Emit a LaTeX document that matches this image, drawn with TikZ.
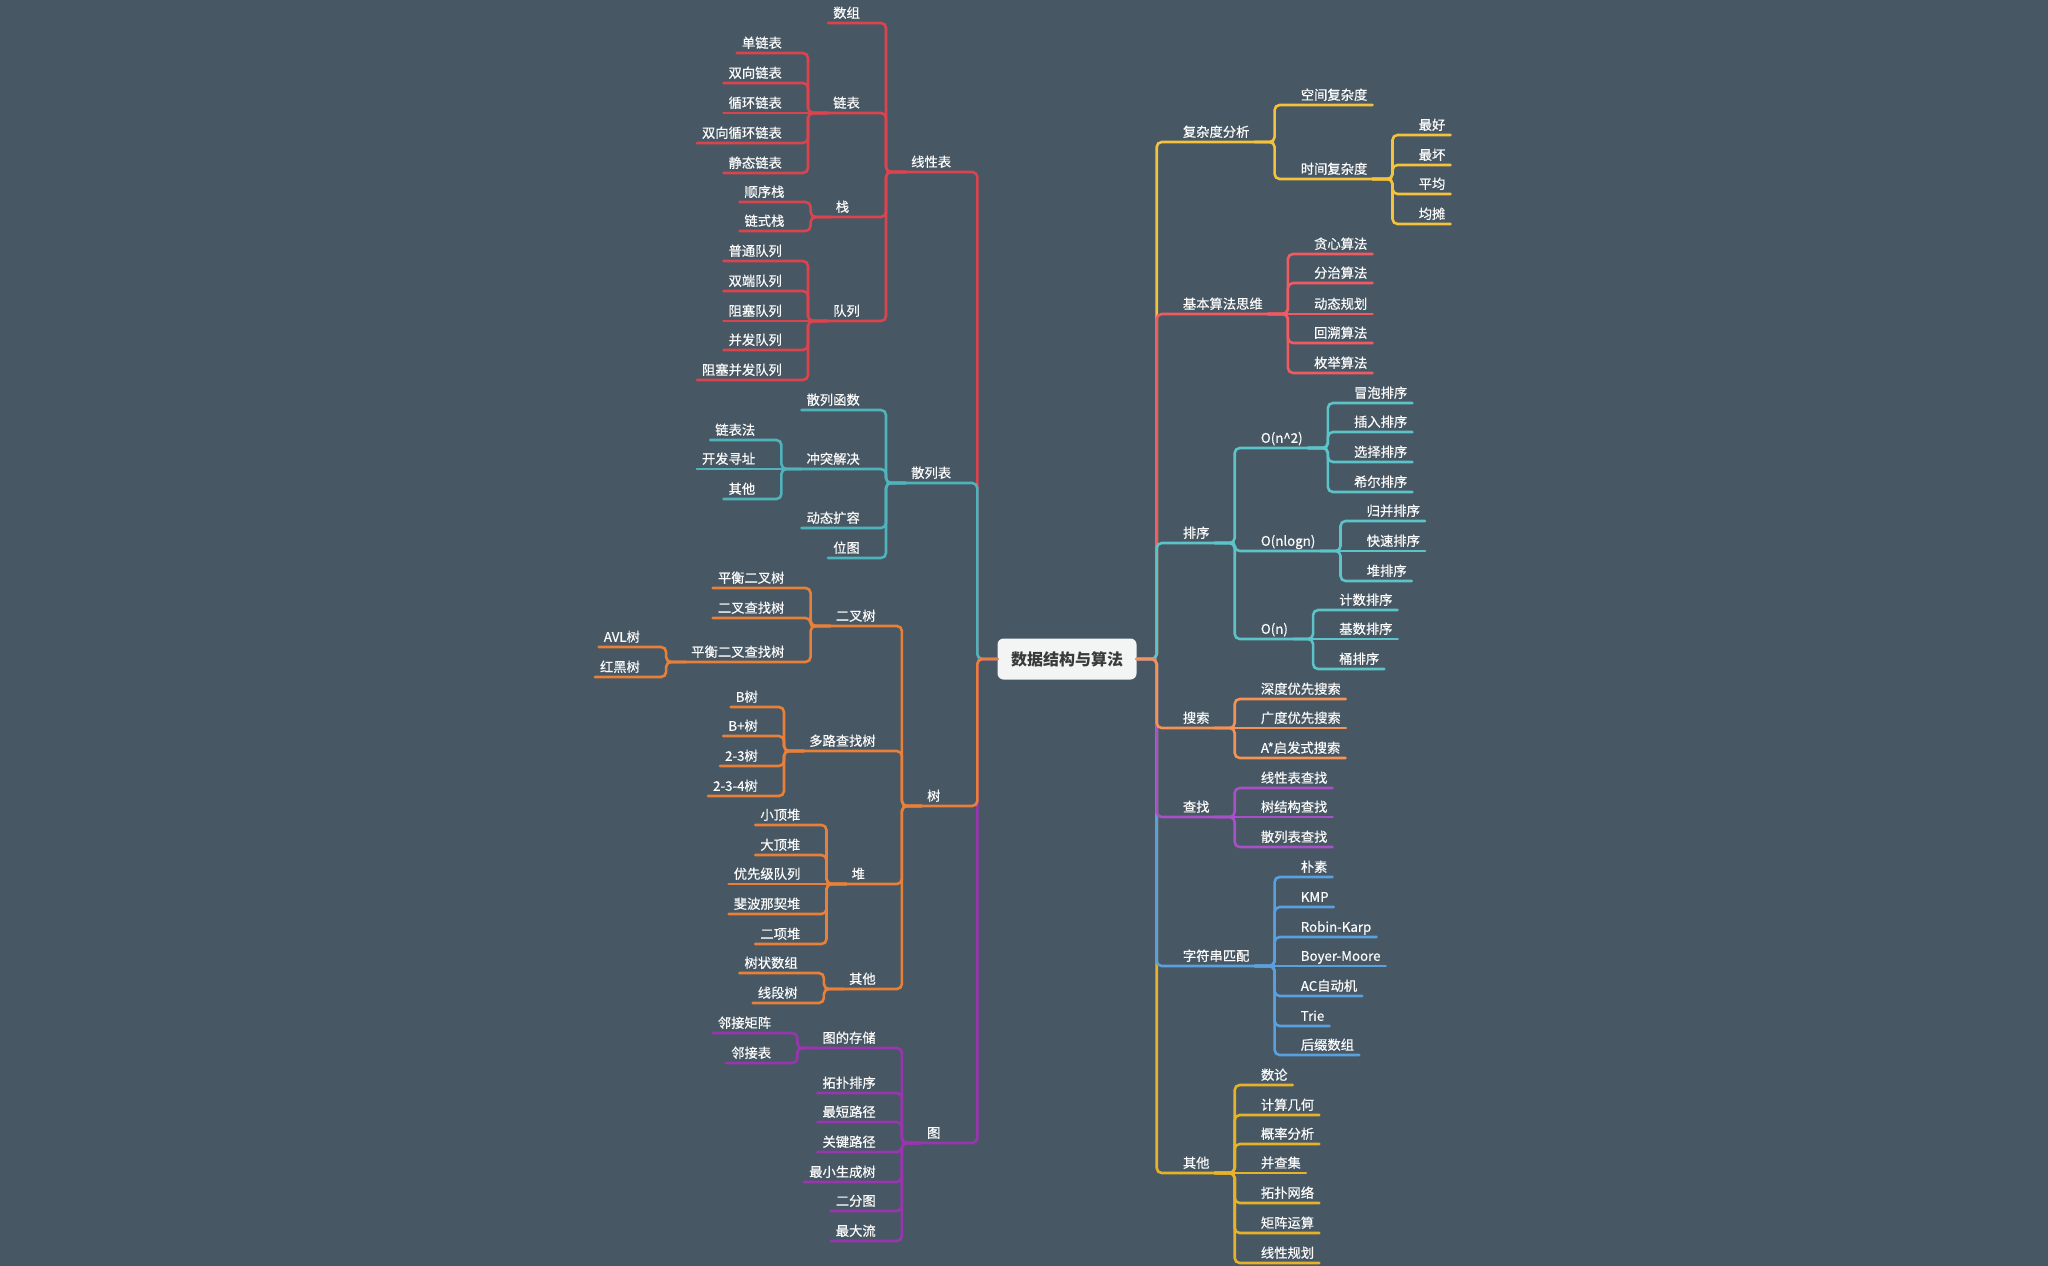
\documentclass[tikz,border=0pt]{standalone}
\usepackage{fontspec}
\newfontfamily\cjkfont{Noto Sans CJK SC}
\newfontfamily\cjktopic[FakeBold=0.6]{Noto Sans CJK SC}

\definecolor{bgSlate}{HTML}{475763}
\definecolor{rootFill}{HTML}{F3F4F4}
\definecolor{rootText}{HTML}{3A3A3A}
\definecolor{topicText}{HTML}{FAFAFA}
\definecolor{cLin}{HTML}{D9444F}
\definecolor{cHash}{HTML}{4FB3BB}
\definecolor{cTree}{HTML}{E8803A}
\definecolor{cGraph}{HTML}{9A35B0}
\definecolor{cCplx}{HTML}{F4C23C}
\definecolor{cIdea}{HTML}{EF5A63}
\definecolor{cSort}{HTML}{5CC3C8}
\definecolor{cSearch}{HTML}{F59255}
\definecolor{cFind}{HTML}{A750C7}
\definecolor{cStr}{HTML}{5AA0DD}
\definecolor{cOther}{HTML}{E6B22A}

\tikzset{
  topic/.style={font=\cjktopic\fontsize{13.3}{16}\selectfont, text=topicText, inner xsep=5pt, inner ysep=2pt, text height=10pt, text depth=3pt},
  lc/.style={topic, anchor=south east, xshift=-21pt},
  rc/.style={topic, anchor=south west, xshift=21pt},
  onechar/.style={text width=24pt, align=left},
  link/.style={line width=2.6pt, rounded corners=5pt, line cap=round},
  rootbox/.style={fill=rootFill, text=rootText, rounded corners=6pt, minimum width=139pt, minimum height=41pt, inner sep=0pt, font=\cjkfont\bfseries\fontsize{16}{19}\selectfont}
}

\begin{document}
\begin{tikzpicture}[x=1pt, y=-1pt]
\fill[bgSlate] (0,0) rectangle (2048,1266);

% ---- Root
\node[rootbox] (root) at (1067,659) {数据结构与算法};
\coordinate (rootL) at ([xshift=-20pt]root.west);
\coordinate (rootR) at ([xshift=20pt]root.east);

% ---- Linear list
\node[lc] (lin) at (rootL |- 0,172) {线性表};
\coordinate (lin-j) at ([xshift=-20pt]lin.south west);
\draw[link, cLin] (root.west) -- (rootL) |- (lin.south east) -- (lin.south west);
\node[lc] (arr) at (lin-j |- 0,23) {数组};
\node[lc] (list) at (lin-j |- 0,113) {链表};
\node[lc, onechar] (stack) at (lin-j |- 0,217) {栈};
\node[lc] (queue) at (lin-j |- 0,321) {队列};
\coordinate (list-j) at ([xshift=-20pt]list.south west);
\coordinate (stack-j) at ([xshift=-20pt]stack.south west);
\coordinate (queue-j) at ([xshift=-20pt]queue.south west);
\draw[link, cLin] (lin.south west) -- (lin-j) |- (arr.south east) -- (arr.south west);
\draw[link, cLin] (lin.south west) -- (lin-j) |- (list.south east) -- (list.south west);
\draw[link, cLin] (lin.south west) -- (lin-j) |- (stack.south east) -- (stack.south west);
\draw[link, cLin] (lin.south west) -- (lin-j) |- (queue.south east) -- (queue.south west);
% ---- list
\node[lc] (sll) at (list-j |- 0,53) {单链表};
\node[lc] (dll) at (list-j |- 0,83) {双向链表};
\node[lc] (cll) at (list-j) {循环链表};
\node[lc] (dcll) at (list-j |- 0,143) {双向循环链表};
\node[lc] (stl) at (list-j |- 0,173) {静态链表};
\draw[link, cLin] (list.south west) -- (list-j) |- (sll.south east) -- (sll.south west);
\draw[link, cLin] (list.south west) -- (list-j) |- (dll.south east) -- (dll.south west);
\draw[link, cLin] (list.south west) -- (cll.south west);
\draw[link, cLin] (list.south west) -- (list-j) |- (dcll.south east) -- (dcll.south west);
\draw[link, cLin] (list.south west) -- (list-j) |- (stl.south east) -- (stl.south west);
% ---- stack
\node[lc] (seqStack) at (stack-j |- 0,202) {顺序栈};
\node[lc] (linkStack) at (stack-j |- 0,231) {链式栈};
\draw[link, cLin] (stack.south west) -- (stack-j) |- (seqStack.south east) -- (seqStack.south west);
\draw[link, cLin] (stack.south west) -- (stack-j) |- (linkStack.south east) -- (linkStack.south west);
% ---- queue
\node[lc] (q1) at (queue-j |- 0,261) {普通队列};
\node[lc] (q2) at (queue-j |- 0,291) {双端队列};
\node[lc] (q3) at (queue-j) {阻塞队列};
\node[lc] (q4) at (queue-j |- 0,350) {并发队列};
\node[lc] (q5) at (queue-j |- 0,380) {阻塞并发队列};
\draw[link, cLin] (queue.south west) -- (queue-j) |- (q1.south east) -- (q1.south west);
\draw[link, cLin] (queue.south west) -- (queue-j) |- (q2.south east) -- (q2.south west);
\draw[link, cLin] (queue.south west) -- (q3.south west);
\draw[link, cLin] (queue.south west) -- (queue-j) |- (q4.south east) -- (q4.south west);
\draw[link, cLin] (queue.south west) -- (queue-j) |- (q5.south east) -- (q5.south west);

% ---- Hash table
\node[lc] (hash) at (rootL |- 0,483) {散列表};
\coordinate (hash-j) at ([xshift=-20pt]hash.south west);
\draw[link, cHash] (root.west) -- (rootL) |- (hash.south east) -- (hash.south west);
\node[lc] (hfun) at (hash-j |- 0,410) {散列函数};
\node[lc] (hconf) at (hash-j |- 0,469) {冲突解决};
\node[lc] (hdyn) at (hash-j |- 0,528) {动态扩容};
\node[lc] (hbit) at (hash-j |- 0,558) {位图};
\coordinate (hconf-j) at ([xshift=-20pt]hconf.south west);
\draw[link, cHash] (hash.south west) -- (hash-j) |- (hfun.south east) -- (hfun.south west);
\draw[link, cHash] (hash.south west) -- (hash-j) |- (hconf.south east) -- (hconf.south west);
\draw[link, cHash] (hash.south west) -- (hash-j) |- (hdyn.south east) -- (hdyn.south west);
\draw[link, cHash] (hash.south west) -- (hash-j) |- (hbit.south east) -- (hbit.south west);
\node[lc] (chain) at (hconf-j |- 0,440) {链表法};
\node[lc] (openAddr) at (hconf-j) {开发寻址};
\node[lc] (hoth) at (hconf-j |- 0,499) {其他};
\draw[link, cHash] (hconf.south west) -- (hconf-j) |- (chain.south east) -- (chain.south west);
\draw[link, cHash] (hconf.south west) -- (openAddr.south west);
\draw[link, cHash] (hconf.south west) -- (hconf-j) |- (hoth.south east) -- (hoth.south west);

% ---- Graph
\node[lc, onechar] (graph) at (rootL |- 0,1143) {图};
\coordinate (graph-j) at ([xshift=-20pt]graph.south west);
\draw[link, cGraph] (root.west) -- (rootL) |- (graph.south east) -- (graph.south west);
\node[lc] (gstore) at (graph-j |- 0,1048) {图的存储};
\node[lc] (topo) at (graph-j |- 0,1093) {拓扑排序};
\node[lc] (shortest) at (graph-j |- 0,1122) {最短路径};
\node[lc] (critical) at (graph-j |- 0,1152) {关键路径};
\node[lc] (mst) at (graph-j |- 0,1182) {最小生成树};
\node[lc] (bipart) at (graph-j |- 0,1211) {二分图};
\node[lc] (maxflow) at (graph-j |- 0,1241) {最大流};
\coordinate (gstore-j) at ([xshift=-20pt]gstore.south west);
\draw[link, cGraph] (graph.south west) -- (graph-j) |- (gstore.south east) -- (gstore.south west);
\draw[link, cGraph] (graph.south west) -- (graph-j) |- (topo.south east) -- (topo.south west);
\draw[link, cGraph] (graph.south west) -- (graph-j) |- (shortest.south east) -- (shortest.south west);
\draw[link, cGraph] (graph.south west) -- (graph-j) |- (critical.south east) -- (critical.south west);
\draw[link, cGraph] (graph.south west) -- (graph-j) |- (mst.south east) -- (mst.south west);
\draw[link, cGraph] (graph.south west) -- (graph-j) |- (bipart.south east) -- (bipart.south west);
\draw[link, cGraph] (graph.south west) -- (graph-j) |- (maxflow.south east) -- (maxflow.south west);
\node[lc] (adjMat) at (gstore-j |- 0,1033) {邻接矩阵};
\node[lc] (adjList) at (gstore-j |- 0,1063) {邻接表};
\draw[link, cGraph] (gstore.south west) -- (gstore-j) |- (adjMat.south east) -- (adjMat.south west);
\draw[link, cGraph] (gstore.south west) -- (gstore-j) |- (adjList.south east) -- (adjList.south west);

% ---- Tree
\node[lc, onechar] (tree) at (rootL |- 0,806) {树};
\coordinate (tree-j) at ([xshift=-20pt]tree.south west);
\draw[link, cTree] (root.west) -- (rootL) |- (tree.south east) -- (tree.south west);
\node[lc] (bin) at (tree-j |- 0,626) {二叉树};
\node[lc] (multi) at (tree-j |- 0,751) {多路查找树};
\node[lc, onechar] (heap) at (tree-j |- 0,884) {堆};
\node[lc] (toth) at (tree-j |- 0,989) {其他};
\coordinate (bin-j) at ([xshift=-20pt]bin.south west);
\coordinate (multi-j) at ([xshift=-20pt]multi.south west);
\coordinate (heap-j) at ([xshift=-20pt]heap.south west);
\coordinate (toth-j) at ([xshift=-20pt]toth.south west);
\draw[link, cTree] (tree.south west) -- (tree-j) |- (bin.south east) -- (bin.south west);
\draw[link, cTree] (tree.south west) -- (tree-j) |- (multi.south east) -- (multi.south west);
\draw[link, cTree] (tree.south west) -- (tree-j) |- (heap.south east) -- (heap.south west);
\draw[link, cTree] (tree.south west) -- (tree-j) |- (toth.south east) -- (toth.south west);
% ---- binary tree
\node[lc] (balBin) at (bin-j |- 0,588) {平衡二叉树};
\node[lc] (bst) at (bin-j |- 0,618) {二叉查找树};
\node[lc] (balBst) at (bin-j |- 0,662) {平衡二叉查找树};
\coordinate (balBst-j) at ([xshift=-20pt]balBst.south west);
\draw[link, cTree] (bin.south west) -- (bin-j) |- (balBin.south east) -- (balBin.south west);
\draw[link, cTree] (bin.south west) -- (bin-j) |- (bst.south east) -- (bst.south west);
\draw[link, cTree] (bin.south west) -- (bin-j) |- (balBst.south east) -- (balBst.south west);
\node[lc] (avl) at (balBst-j |- 0,647) {AVL树};
\node[lc] (rbt) at (balBst-j |- 0,677) {红黑树};
\draw[link, cTree] (balBst.south west) -- (balBst-j) |- (avl.south east) -- (avl.south west);
\draw[link, cTree] (balBst.south west) -- (balBst-j) |- (rbt.south east) -- (rbt.south west);
% ---- multiway tree
\node[lc] (bt) at (multi-j |- 0,707) {B树};
\node[lc] (bpt) at (multi-j |- 0,736) {B+树};
\node[lc] (t23) at (multi-j |- 0,766) {2-3树};
\node[lc] (t234) at (multi-j |- 0,796) {2-3-4树};
\draw[link, cTree] (multi.south west) -- (multi-j) |- (bt.south east) -- (bt.south west);
\draw[link, cTree] (multi.south west) -- (multi-j) |- (bpt.south east) -- (bpt.south west);
\draw[link, cTree] (multi.south west) -- (multi-j) |- (t23.south east) -- (t23.south west);
\draw[link, cTree] (multi.south west) -- (multi-j) |- (t234.south east) -- (t234.south west);
% ---- heap
\node[lc] (minHeap) at (heap-j |- 0,825) {小顶堆};
\node[lc] (maxHeap) at (heap-j |- 0,855) {大顶堆};
\node[lc] (pq) at (heap-j) {优先级队列};
\node[lc] (fibHeap) at (heap-j |- 0,914) {斐波那契堆};
\node[lc] (binoHeap) at (heap-j |- 0,944) {二项堆};
\draw[link, cTree] (heap.south west) -- (heap-j) |- (minHeap.south east) -- (minHeap.south west);
\draw[link, cTree] (heap.south west) -- (heap-j) |- (maxHeap.south east) -- (maxHeap.south west);
\draw[link, cTree] (heap.south west) -- (pq.south west);
\draw[link, cTree] (heap.south west) -- (heap-j) |- (fibHeap.south east) -- (fibHeap.south west);
\draw[link, cTree] (heap.south west) -- (heap-j) |- (binoHeap.south east) -- (binoHeap.south west);
% ---- other trees
\node[lc] (bit) at (toth-j |- 0,973) {树状数组};
\node[lc] (segTree) at (toth-j |- 0,1003) {线段树};
\draw[link, cTree] (toth.south west) -- (toth-j) |- (bit.south east) -- (bit.south west);
\draw[link, cTree] (toth.south west) -- (toth-j) |- (segTree.south east) -- (segTree.south west);

% ---- Complexity
\node[rc] (cplx) at (rootR |- 0,142) {复杂度分析};
\coordinate (cplx-j) at ([xshift=20pt]cplx.south east);
\draw[link, cCplx] (root.east) -- (rootR) |- (cplx.south west) -- (cplx.south east);
\node[rc] (space) at (cplx-j |- 0,105) {空间复杂度};
\node[rc] (time) at (cplx-j |- 0,179) {时间复杂度};
\coordinate (time-j) at ([xshift=20pt]time.south east);
\draw[link, cCplx] (cplx.south east) -- (cplx-j) |- (space.south west) -- (space.south east);
\draw[link, cCplx] (cplx.south east) -- (cplx-j) |- (time.south west) -- (time.south east);
\node[rc] (best) at (time-j |- 0,135) {最好};
\node[rc] (worst) at (time-j |- 0,165) {最坏};
\node[rc] (avg) at (time-j |- 0,194) {平均};
\node[rc] (amort) at (time-j |- 0,224) {均摊};
\draw[link, cCplx] (time.south east) -- (time-j) |- (best.south west) -- (best.south east);
\draw[link, cCplx] (time.south east) -- (time-j) |- (worst.south west) -- (worst.south east);
\draw[link, cCplx] (time.south east) -- (time-j) |- (avg.south west) -- (avg.south east);
\draw[link, cCplx] (time.south east) -- (time-j) |- (amort.south west) -- (amort.south east);

% ---- Basic ideas
\node[rc] (idea) at (rootR |- 0,314) {基本算法思维};
\coordinate (idea-j) at ([xshift=20pt]idea.south east);
\draw[link, cIdea] (root.east) -- (rootR) |- (idea.south west) -- (idea.south east);
\node[rc] (greedy) at (idea-j |- 0,254) {贪心算法};
\node[rc] (divide) at (idea-j |- 0,283) {分治算法};
\node[rc] (dp) at (idea-j) {动态规划};
\node[rc] (backtrack) at (idea-j |- 0,343) {回溯算法};
\node[rc] (enumer) at (idea-j |- 0,373) {枚举算法};
\draw[link, cIdea] (idea.south east) -- (idea-j) |- (greedy.south west) -- (greedy.south east);
\draw[link, cIdea] (idea.south east) -- (idea-j) |- (divide.south west) -- (divide.south east);
\draw[link, cIdea] (idea.south east) -- (dp.south east);
\draw[link, cIdea] (idea.south east) -- (idea-j) |- (backtrack.south west) -- (backtrack.south east);
\draw[link, cIdea] (idea.south east) -- (idea-j) |- (enumer.south west) -- (enumer.south east);

% ---- Sorting
\node[rc] (sort) at (rootR |- 0,543) {排序};
\coordinate (sort-j) at ([xshift=20pt]sort.south east);
\draw[link, cSort] (root.east) -- (rootR) |- (sort.south west) -- (sort.south east);
\node[rc] (on2) at (sort-j |- 0,448) {O(n\textasciicircum 2)};
\node[rc] (onlogn) at (sort-j |- 0,551) {O(nlogn)};
\node[rc] (on) at (sort-j |- 0,639) {O(n)};
\coordinate (on2-j) at ([xshift=20pt]on2.south east);
\coordinate (onlogn-j) at ([xshift=20pt]onlogn.south east);
\coordinate (on-j) at ([xshift=20pt]on.south east);
\draw[link, cSort] (sort.south east) -- (sort-j) |- (on2.south west) -- (on2.south east);
\draw[link, cSort] (sort.south east) -- (sort-j) |- (onlogn.south west) -- (onlogn.south east);
\draw[link, cSort] (sort.south east) -- (sort-j) |- (on.south west) -- (on.south east);
\node[rc] (bubble) at (on2-j |- 0,403) {冒泡排序};
\node[rc] (insert) at (on2-j |- 0,432) {插入排序};
\node[rc] (select) at (on2-j |- 0,462) {选择排序};
\node[rc] (shell) at (on2-j |- 0,492) {希尔排序};
\draw[link, cSort] (on2.south east) -- (on2-j) |- (bubble.south west) -- (bubble.south east);
\draw[link, cSort] (on2.south east) -- (on2-j) |- (insert.south west) -- (insert.south east);
\draw[link, cSort] (on2.south east) -- (on2-j) |- (select.south west) -- (select.south east);
\draw[link, cSort] (on2.south east) -- (on2-j) |- (shell.south west) -- (shell.south east);
\node[rc] (merge) at (onlogn-j |- 0,521) {归并排序};
\node[rc] (quick) at (onlogn-j) {快速排序};
\node[rc] (heapSort) at (onlogn-j |- 0,581) {堆排序};
\draw[link, cSort] (onlogn.south east) -- (onlogn-j) |- (merge.south west) -- (merge.south east);
\draw[link, cSort] (onlogn.south east) -- (quick.south east);
\draw[link, cSort] (onlogn.south east) -- (onlogn-j) |- (heapSort.south west) -- (heapSort.south east);
\node[rc] (counting) at (on-j |- 0,610) {计数排序};
\node[rc] (radix) at (on-j) {基数排序};
\node[rc] (bucket) at (on-j |- 0,669) {桶排序};
\draw[link, cSort] (on.south east) -- (on-j) |- (counting.south west) -- (counting.south east);
\draw[link, cSort] (on.south east) -- (radix.south east);
\draw[link, cSort] (on.south east) -- (on-j) |- (bucket.south west) -- (bucket.south east);

% ---- Other topics
\node[rc] (roth) at (rootR |- 0,1173) {其他};
\coordinate (roth-j) at ([xshift=20pt]roth.south east);
\draw[link, cOther] (root.east) -- (rootR) |- (roth.south west) -- (roth.south east);
\node[rc] (number) at (roth-j |- 0,1085) {数论};
\node[rc] (geom) at (roth-j |- 0,1115) {计算几何};
\node[rc] (prob) at (roth-j |- 0,1144) {概率分析};
\node[rc] (ufs) at (roth-j) {并查集};
\node[rc] (topoNet) at (roth-j |- 0,1203) {拓扑网络};
\node[rc] (matrix) at (roth-j |- 0,1233) {矩阵运算};
\node[rc] (lp) at (roth-j |- 0,1263) {线性规划};
\draw[link, cOther] (roth.south east) -- (roth-j) |- (number.south west) -- (number.south east);
\draw[link, cOther] (roth.south east) -- (roth-j) |- (geom.south west) -- (geom.south east);
\draw[link, cOther] (roth.south east) -- (roth-j) |- (prob.south west) -- (prob.south east);
\draw[link, cOther] (roth.south east) -- (ufs.south east);
\draw[link, cOther] (roth.south east) -- (roth-j) |- (topoNet.south west) -- (topoNet.south east);
\draw[link, cOther] (roth.south east) -- (roth-j) |- (matrix.south west) -- (matrix.south east);
\draw[link, cOther] (roth.south east) -- (roth-j) |- (lp.south west) -- (lp.south east);

% ---- String matching
\node[rc] (str) at (rootR |- 0,966) {字符串匹配};
\coordinate (str-j) at ([xshift=20pt]str.south east);
\draw[link, cStr] (root.east) -- (rootR) |- (str.south west) -- (str.south east);
\node[rc] (naive) at (str-j |- 0,877) {朴素};
\node[rc] (kmp) at (str-j |- 0,907) {KMP};
\node[rc] (rk) at (str-j |- 0,937) {Robin-Karp};
\node[rc] (bm) at (str-j) {Boyer-Moore};
\node[rc] (ac) at (str-j |- 0,996) {AC自动机};
\node[rc] (trie) at (str-j |- 0,1026) {Trie};
\node[rc] (sa) at (str-j |- 0,1055) {后缀数组};
\draw[link, cStr] (str.south east) -- (str-j) |- (naive.south west) -- (naive.south east);
\draw[link, cStr] (str.south east) -- (str-j) |- (kmp.south west) -- (kmp.south east);
\draw[link, cStr] (str.south east) -- (str-j) |- (rk.south west) -- (rk.south east);
\draw[link, cStr] (str.south east) -- (bm.south east);
\draw[link, cStr] (str.south east) -- (str-j) |- (ac.south west) -- (ac.south east);
\draw[link, cStr] (str.south east) -- (str-j) |- (trie.south west) -- (trie.south east);
\draw[link, cStr] (str.south east) -- (str-j) |- (sa.south west) -- (sa.south east);

% ---- Lookup
\node[rc] (find) at (rootR |- 0,817) {查找};
\coordinate (find-j) at ([xshift=20pt]find.south east);
\draw[link, cFind] (root.east) -- (rootR) |- (find.south west) -- (find.south east);
\node[rc] (linFind) at (find-j |- 0,788) {线性表查找};
\node[rc] (treeFind) at (find-j) {树结构查找};
\node[rc] (hashFind) at (find-j |- 0,847) {散列表查找};
\draw[link, cFind] (find.south east) -- (find-j) |- (linFind.south west) -- (linFind.south east);
\draw[link, cFind] (find.south east) -- (treeFind.south east);
\draw[link, cFind] (find.south east) -- (find-j) |- (hashFind.south west) -- (hashFind.south east);

% ---- Search
\node[rc] (search) at (rootR |- 0,728) {搜索};
\coordinate (search-j) at ([xshift=20pt]search.south east);
\draw[link, cSearch] (root.east) -- (rootR) |- (search.south west) -- (search.south east);
\node[rc] (dfs) at (search-j |- 0,699) {深度优先搜索};
\node[rc] (bfs) at (search-j) {广度优先搜索};
\node[rc] (astar) at (search-j |- 0,758) {A*启发式搜索};
\draw[link, cSearch] (search.south east) -- (search-j) |- (dfs.south west) -- (dfs.south east);
\draw[link, cSearch] (search.south east) -- (bfs.south east);
\draw[link, cSearch] (search.south east) -- (search-j) |- (astar.south west) -- (astar.south east);
\end{tikzpicture}
\end{document}
